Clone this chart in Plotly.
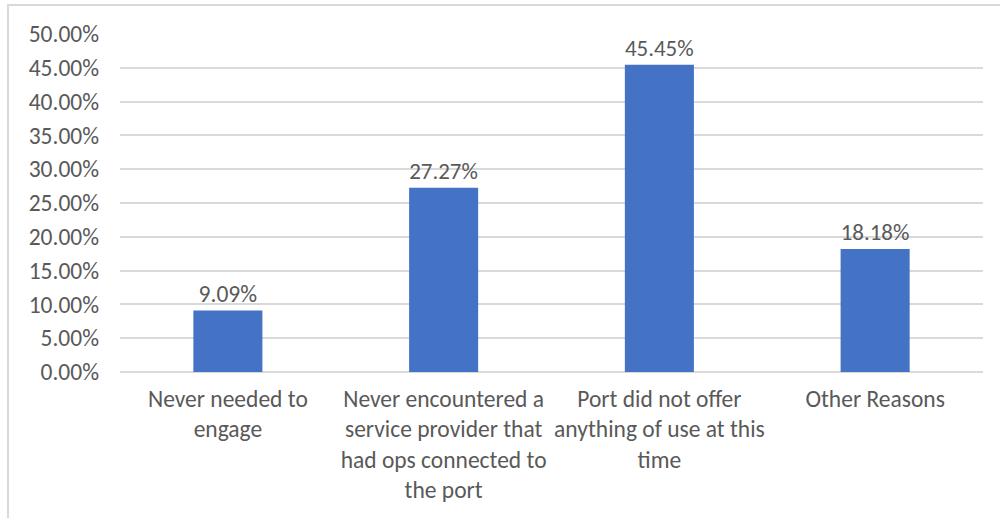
import plotly.graph_objects as go

# Survey reasons and their share of responses
categories = [
    "Never needed to<br>engage",
    "Never encountered a<br>service provider that<br>had ops connected to<br>the port",
    "Port did not offer<br>anything of use at this<br>time",
    "Other Reasons",
]
shares = [9.09, 27.27, 45.45, 18.18]
y_ticks = [0, 5, 10, 15, 20, 25, 30, 35, 40, 45, 50]
y_tick_labels = [f"{v:.2f}%" for v in y_ticks]

FONT = "Carlito, Calibri, 'Open Sans', sans-serif"
GREY = "#595959"
SIZE = 23.5

fig = go.Figure(
    go.Bar(
        x=categories,
        y=shares,
        marker=dict(color="#4472C4", line=dict(width=0)),
        text=[f"{v:.2f}%" for v in shares],
        textposition="outside",
        textfont=dict(family=FONT, size=SIZE, color=GREY),
        cliponaxis=False,
    )
)

fig.update_layout(
    width=1000,
    height=518,
    margin=dict(l=120, r=17, t=34, b=146),
    paper_bgcolor="white",
    plot_bgcolor="white",
    bargap=0.68,
    showlegend=False,
    font=dict(family=FONT, size=SIZE, color=GREY),
    shapes=[
        dict(
            type="rect", xref="paper", yref="paper",
            x0=-0.1298, x1=1.05, y0=-0.6, y1=1.0858,
            line=dict(color="#d9d9d9", width=2),
            fillcolor="rgba(0,0,0,0)", layer="below",
        )
    ],
)

fig.update_xaxes(
    showgrid=False,
    showline=False,
    ticks="",
    tickfont=dict(family=FONT, size=SIZE, color=GREY),
    tickangle=0,
    ticklabelstandoff=10,
)
fig.update_yaxes(
    range=[0, 50],
    tickvals=y_ticks,
    ticktext=y_tick_labels,
    showgrid=True,
    gridcolor="#d9d9d9",
    gridwidth=1.5,
    zeroline=True,
    zerolinecolor="#d9d9d9",
    zerolinewidth=1.5,
    showline=False,
    ticks="",
    ticklabelstandoff=20,
    tickfont=dict(family=FONT, size=SIZE, color=GREY),
)

fig.write_html("out.html")
